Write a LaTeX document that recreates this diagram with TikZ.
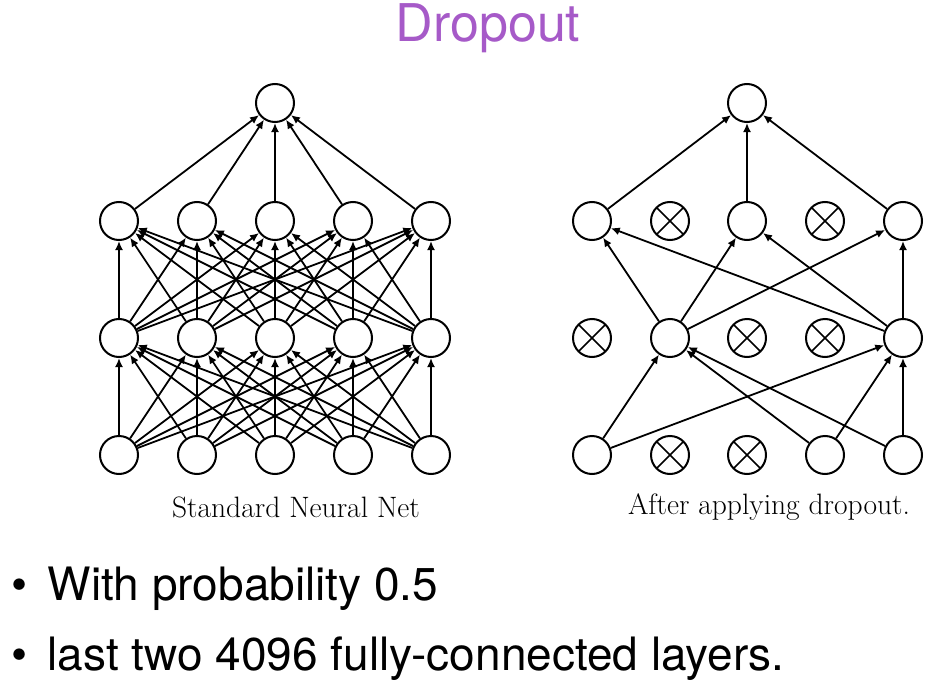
\documentclass[tikz,border=0pt]{standalone}
\usepackage{xcolor}
\usepackage{fontspec}
\usetikzlibrary{arrows.meta}
\newfontfamily\headfont{TeX Gyre Heros}
\definecolor{titlepurple}{RGB}{166,90,200}

\begin{document}
\begin{tikzpicture}[x=1pt, y=-1pt,
  unit/.style={draw, circle, line width=2pt, inner sep=0pt, minimum size=38pt},
  dropped/.style={unit, path picture={
      \draw[line width=1.7pt] (path picture bounding box.north west) -- (path picture bounding box.south east)
        (path picture bounding box.north east) -- (path picture bounding box.south west);}},
  link/.style={line width=1.8pt, -{Latex[length=9pt,width=8pt]}},
  caption/.style={font=\fontsize{29.5}{30}\selectfont},
  bullet/.style={anchor=base west, font=\headfont\fontsize{46}{46}\selectfont}
]
\useasboundingbox (0,0) rectangle (948,685);

\node[text=titlepurple, font=\headfont\fontsize{52}{52}\selectfont] (title) at (488,28) {Dropout};

% standard net
\foreach \i/\x in {1/119,2/197,3/275,4/353,5/431} {
  \node[unit] (L1-\i) at (\x,455) {};
  \node[unit] (L2-\i) at (\x,338) {};
  \node[unit] (L3-\i) at (\x,221) {};
}
\node[unit] (L4) at (275,103) {};
\foreach \i in {1,...,5} {
  \foreach \j in {1,...,5} {
    \draw[link] (L1-\i) -- (L2-\j);
    \draw[link] (L2-\i) -- (L3-\j);
  }
  \draw[link] (L3-\i) -- (L4);
}
\node[caption] (lcap) at (296,507) {Standard Neural Net};

% thinned net
\foreach \i/\x in {1/592,2/670,3/747,4/825,5/903} {
  \coordinate (X\i) at (\x,0);
}
\node[unit]    (R1-1) at (X1 |- L1-1) {};
\node[dropped] (R1-2) at (X2 |- L1-1) {};
\node[dropped] (R1-3) at (X3 |- L1-1) {};
\node[unit]    (R1-4) at (X4 |- L1-1) {};
\node[unit]    (R1-5) at (X5 |- L1-1) {};
\node[dropped] (R2-1) at (X1 |- L2-1) {};
\node[unit]    (R2-2) at (X2 |- L2-1) {};
\node[dropped] (R2-3) at (X3 |- L2-1) {};
\node[dropped] (R2-4) at (X4 |- L2-1) {};
\node[unit]    (R2-5) at (X5 |- L2-1) {};
\node[unit]    (R3-1) at (X1 |- L3-1) {};
\node[dropped] (R3-2) at (X2 |- L3-1) {};
\node[unit]    (R3-3) at (X3 |- L3-1) {};
\node[dropped] (R3-4) at (X4 |- L3-1) {};
\node[unit]    (R3-5) at (X5 |- L3-1) {};
\node[unit]    (R4) at (X3 |- L4) {};
\foreach \a in {1,4,5} {
  \foreach \b in {2,5} {
    \draw[link] (R1-\a) -- (R2-\b);
  }
}
\foreach \a in {2,5} {
  \foreach \b in {1,3,5} {
    \draw[link] (R2-\a) -- (R3-\b);
  }
}
\foreach \a in {1,3,5} {
  \draw[link] (R3-\a) -- (R4);
}
\node[caption] (rcap) at (769,507) {After applying dropout.};

% bullet points
\node[bullet] (b1) at (8,600) {\textbullet\hspace{20pt}With probability 0.5};
\node[bullet] (b2) at (8,670) {\textbullet\hspace{20pt}last two 4096 fully-connected layers.};
\end{tikzpicture}
\end{document}
